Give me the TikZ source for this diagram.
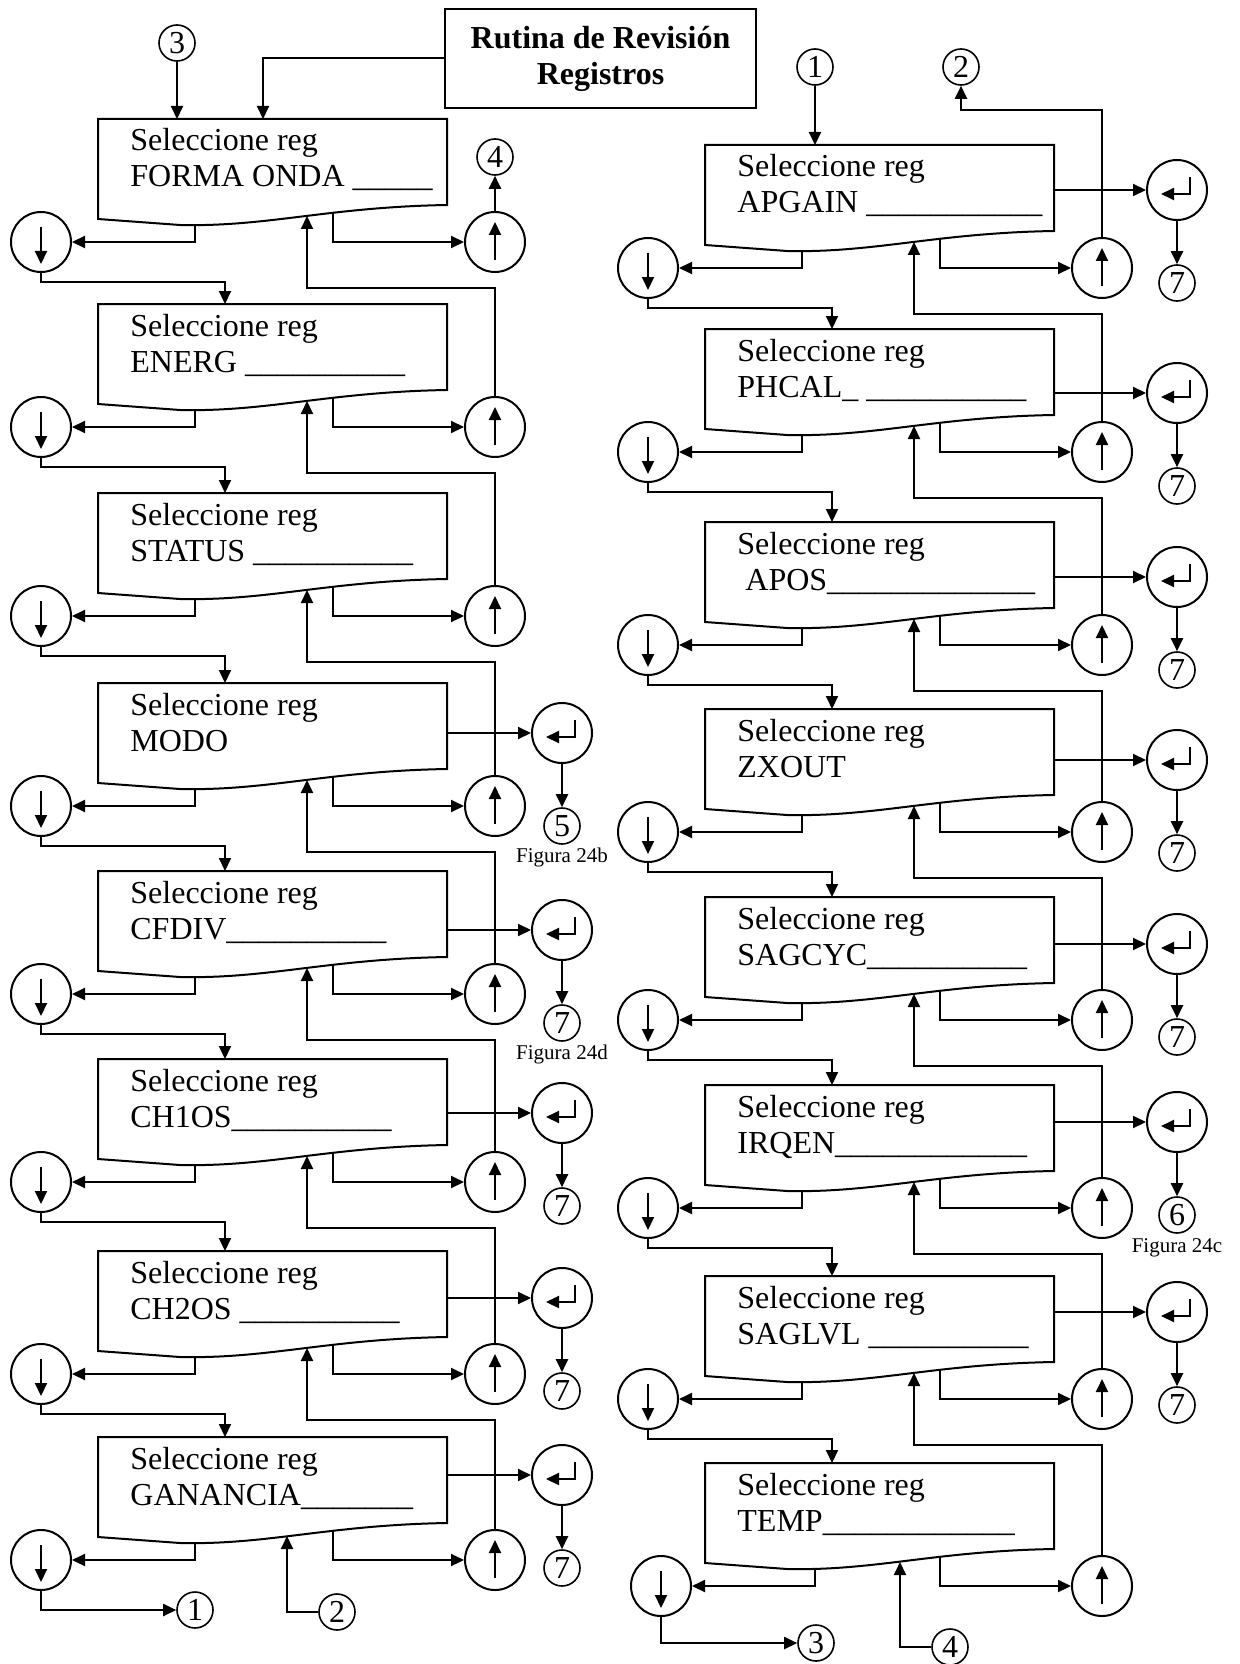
\documentclass[tikz,border=0pt]{standalone}
\usepackage{fontspec}
\setmainfont{Liberation Serif}
\usetikzlibrary{arrows.meta,calc}

\tikzset{
  wire/.style={line width=1pt},
  arr/.style={line width=1pt,-{Triangle[length=6.5pt,width=6pt]}},
  keybtn/.style={circle,draw,line width=1pt,minimum size=30pt,inner sep=0pt},
  offpage/.style={circle,draw,line width=0.8pt,minimum size=18pt,inner sep=0pt,font=\fontsize{16}{16}\selectfont},
  regtext/.style={anchor=base west,inner sep=0pt,font=\fontsize{16}{18}\selectfont},
  figtext/.style={anchor=base,inner sep=0pt,font=\fontsize{10.5}{12}\selectfont},
  titlebox/.style={draw,line width=1pt,minimum width=155.5pt,minimum height=49.5pt,align=center,font=\fontsize{16}{18}\selectfont\bfseries}
}

\begin{document}
\begin{tikzpicture}[x=0.5pt,y=-0.5pt]
\useasboundingbox (0,0) rectangle (1239,1664);

% title
\node[titlebox] (title) at (600.5,58.5) {Rutina de Revisión\\Registros};

% register boxes, column / left x / row / top / down key offset / text
\foreach \c/\xl/\k/\t/\d/\txt in {
    L/98/0/119/-57/{FORMA ONDA \_\_\_\_\_},
    L/98/1/304/-57/{ENERG \_\_\_\_\_\_\_\_\_\_},
    L/98/2/493/-57/{STATUS \_\_\_\_\_\_\_\_\_\_},
    L/98/3/683/-57/{MODO},
    L/98/4/871/-57/{CFDIV\_\_\_\_\_\_\_\_\_\_},
    L/98/5/1059/-57/{CH1OS\_\_\_\_\_\_\_\_\_\_},
    L/98/6/1251/-57/{CH2OS \_\_\_\_\_\_\_\_\_\_},
    L/98/7/1437/-57/{GANANCIA\_\_\_\_\_\_\_},
    R/705/0/145/-57/{APGAIN \_\_\_\_\_\_\_\_\_\_\_},
    R/705/1/329/-57/{PHCAL\_ \_\_\_\_\_\_\_\_\_\_},
    R/705/2/522/-57/{\ APOS\_\_\_\_\_\_\_\_\_\_\_\_\_},
    R/705/3/709/-57/{ZXOUT},
    R/705/4/897/-57/{SAGCYC\_\_\_\_\_\_\_\_\_\_},
    R/705/5/1085/-57/{IRQEN\_\_\_\_\_\_\_\_\_\_\_\_},
    R/705/6/1276/-57/{SAGLVL \_\_\_\_\_\_\_\_\_\_},
    R/705/7/1463/-44/{TEMP\_\_\_\_\_\_\_\_\_\_\_\_}} {
  \draw[wire] (\xl+349,\t+86) .. controls (\xl+230,\t+88) and (\xl+170,\t+108) .. (\xl+82,\t+106)
    -- (\xl,\t+100) -- (\xl,\t) -- (\xl+349,\t) -- cycle;
  \node[regtext] (\c\k-a) at (\xl+32,\t+32) {Seleccione reg};
  \node[regtext] (\c\k-b) at (\xl+32,\t+68) {\txt};
  \coordinate (\c\k-top) at (\xl+127,\t);
  \coordinate (\c\k-dn) at (\xl+154+\d,\t+105);
  \coordinate (\c\k-out) at (\xl+235,\t+93);
  \coordinate (\c\k-in) at (\xl+209,\t+97);
  \coordinate (\c\k-fb) at (\xl+209,\t+169);
  % down and up keys
  \node[keybtn] (dn\c\k) at (\xl+\d,\t+123) {};
  \draw[arr] ($(dn\c\k)+(0,-15)$) -- ($(dn\c\k)+(0,22)$);
  \node[keybtn] (up\c\k) at (\xl+397,\t+123) {};
  \draw[arr] ($(up\c\k)+(0,18)$) -- ($(up\c\k)+(0,-20)$);
  \draw[arr] (\c\k-dn) |- (dn\c\k);
  \draw[arr] (\c\k-out) |- (up\c\k);
  \ifnum\k>0
    \pgfmathtruncatemacro\p{\k-1}
    \draw[arr] (dn\c\p.south) -- ++(0,9) -| (\c\k-top);
    \draw[arr] (up\c\k) |- (\c\p-fb) -- (\c\p-in);
  \fi
}

% enter keys
\foreach \c/\k/\xr/\ex/\ey/\num in {
    L/3/447/562/733/5, L/4/447/562/930/7, L/5/447/562/1113/7,
    L/6/447/562/1298/7, L/7/447/562/1475/7,
    R/0/1054/1177/190/7, R/1/1054/1177/393/7, R/2/1054/1177/577/7,
    R/3/1054/1177/760/7, R/4/1054/1177/944/7, R/5/1054/1177/1122/6,
    R/6/1054/1177/1312/7} {
  \coordinate (\c\k-r) at (\xr,\ey);
  \node[keybtn] (ent\c\k) at (\ex,\ey) {};
  \draw[arr] ($(ent\c\k)+(13,-13)$) -- ++(0,17) -- ++(-29,0);
  \draw[arr] (\c\k-r) -- (ent\c\k);
  \node[offpage] (out\c\k) at (\ex,\ey+93) {\num};
  \draw[arr] (ent\c\k) -- (out\c\k);
}
\node[figtext] (fig24b) at (562,862) {Figura 24b};
\node[figtext] (fig24d) at (562,1059) {Figura 24d};
\node[figtext] (fig24c) at (1177,1252) {Figura 24c};

% off-page connectors
\node[offpage] (c3top) at (177,43) {3};
\node[offpage] (c4top) at (495,157) {4};
\node[offpage] (c1top) at (815,67) {1};
\node[offpage] (c2top) at (961,67) {2};
\node[offpage] (c1bot) at (195,1610) {1};
\node[offpage] (c2bot) at (337,1612) {2};
\node[offpage] (c3bot) at (816,1643) {3};
\node[offpage] (c4bot) at (950,1647) {4};
\coordinate (L0-ttl) at (263,119);
\coordinate (L7-in2) at (287,1536);
\coordinate (R7-in2) at (900,1562);

\draw[arr] (c3top) -- (c3top |- L0-top);
\draw[arr] (title) -| (L0-ttl);
\draw[arr] (upL0) -- (c4top);
\draw[arr] (c1top) -- (c1top |- R0-top);
\draw[arr] (upR0.north) -- ++(0,-127) -| (c2top);
\draw[arr] (dnL7) |- (c1bot);
\draw[arr] (c2bot) -| (L7-in2);
\draw[arr] (dnR7) |- (c3bot);
\draw[arr] (c4bot) -| (R7-in2);
\end{tikzpicture}
\end{document}
